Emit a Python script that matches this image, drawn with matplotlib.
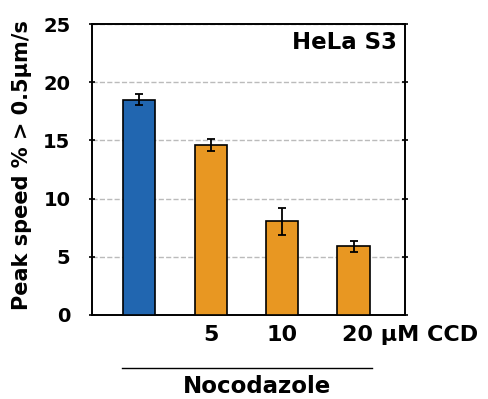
import numpy as np
import matplotlib.pyplot as plt

plt.rcParams['font.family'] = 'DejaVu Sans'
plt.rcParams['font.weight'] = 'bold'

# Peak speed fractions for control and nocodazole doses
conditions = ['Control', '5', '10', '20']
peak_pct = [18.5, 14.6, 8.05, 5.9]
peak_err = [0.45, 0.5, 1.15, 0.5]
bar_colors = ['#2166b0', '#e89722', '#e89722', '#e89722']

fig = plt.figure(figsize=(4.88, 3.99), dpi=100)
ax = fig.add_axes([92 / 488, 1 - 315 / 399, 313 / 488, 291 / 399])

x = np.arange(len(conditions))
ax.bar(x, peak_pct, width=0.45, color=bar_colors, edgecolor='black',
       linewidth=1.2, zorder=3)
ax.errorbar(x, peak_pct, yerr=peak_err, fmt='none', ecolor='black',
            elinewidth=1.3, capsize=2.8, capthick=1.3, zorder=4)

ax.set_ylim(0, 25)
ax.set_xlim(-0.66, 3.72)
ax.set_yticks([0, 5, 10, 15, 20, 25])
ax.yaxis.grid(True, linestyle='--', color='#bbbbbb', linewidth=1, zorder=0)
ax.set_xticks([])
ax.tick_params(axis='y', which='both', direction='inout', length=5, width=1.2,
               right=True, labelsize=14, pad=13)
for sp in ax.spines.values():
    sp.set_linewidth(1.4)

fig.text(22 / 488, 1 - 165 / 399, 'Peak speed % > 0.5µm/s', rotation=90,
         ha='center', va='center', fontsize=15, fontweight='bold')
ax.text(0.975, 0.975, 'HeLa S3', transform=ax.transAxes, ha='right', va='top',
        fontsize=16.5, fontweight='bold')

# Dose labels under the nocodazole bars
tr = ax.get_xaxis_transform()
ax.text(x[1], -0.035, conditions[1], transform=tr, ha='center', va='top',
        fontsize=16, fontweight='bold')
ax.text(x[2], -0.035, conditions[2], transform=tr, ha='center', va='top',
        fontsize=16, fontweight='bold')
ax.text(x[3] - 0.16, -0.035, conditions[3] + ' µM CCD', transform=tr,
        ha='left', va='top', fontsize=16, fontweight='bold')

# Bracket line and group label
ax.plot([-0.24, 3.26], [-0.182, -0.182], transform=tr, color='black',
        linewidth=1, clip_on=False)
ax.text(1.65, -0.205, 'Nocodazole', transform=tr, ha='center', va='top',
        fontsize=16.5, fontweight='bold')

fig.savefig('out.png', dpi=100)
